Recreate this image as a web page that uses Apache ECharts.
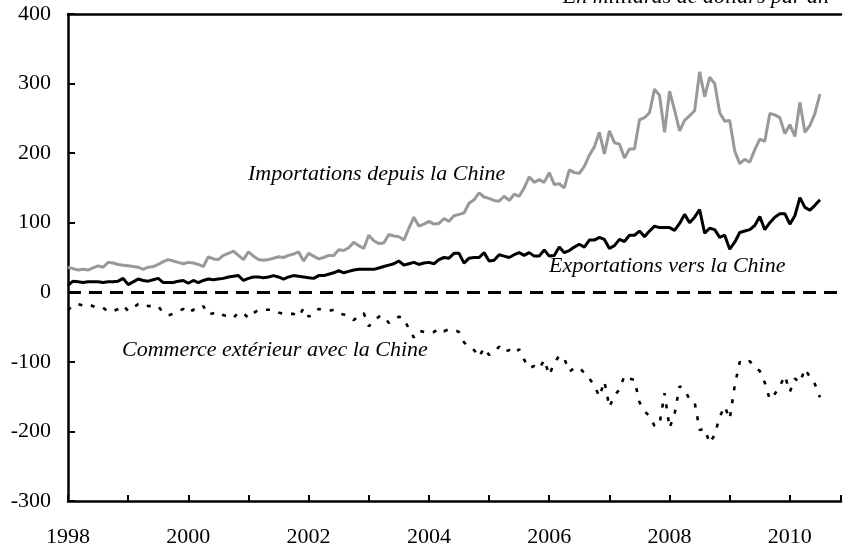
<!DOCTYPE html>
<html>
<head>
<meta charset="utf-8">
<script src="https://cdn.jsdelivr.net/npm/echarts@6/dist/echarts.min.js"></script>
<style>
  html, body { margin: 0; padding: 0; background: #fff; }
  #chart { width: 844px; height: 548px; }
</style>
</head>
<body>
<div id="chart"></div>
<script>
// données mensuelles, janvier 1998 -> juillet 2010, en milliards de dollars par an
var startYear = 1998;
var imports = [
    36, 34, 32, 33, 32, 35, 38, 36, 43, 42, 40, 39,
    38, 37, 36, 33, 36, 37, 40, 44, 47, 45, 43, 41,
    43, 42, 40, 37, 51, 48, 47, 53, 56, 59, 53, 47,
    58, 52, 47, 46, 47, 49, 51, 50, 53, 55, 58, 45,
    56, 52, 48, 50, 53, 53, 61, 60, 64, 72, 67, 63,
    82, 74, 70, 71, 83, 81, 80, 75, 92, 108, 95, 98,
    102, 98, 99, 106, 102, 110, 112, 114, 128, 133, 143, 137,
    135, 132, 131, 138, 132, 141, 138, 150, 166, 158, 162, 158,
    172, 155, 156, 150, 176, 172, 171, 181, 197, 209, 230, 199,
    232, 215, 213, 193, 206, 206, 248, 251, 258, 292, 283, 230,
    289, 262, 232, 247, 254, 261, 317, 281, 309, 300, 258, 246,
    247, 203, 185, 191, 187, 205, 220, 217, 257, 255, 251, 228,
    241, 224, 273, 230, 240, 257, 285
];
var exports = [
    10, 16, 15, 14, 15, 15, 15, 14, 15, 15, 16, 20,
    11, 15, 19, 17, 16, 18, 20, 14, 14, 14, 16, 17,
    13, 17, 14, 17, 19, 18, 19, 20, 22, 23, 24, 17,
    20, 22, 22, 21, 22, 24, 22, 19, 22, 24, 23, 22,
    21, 20, 24, 24, 26, 28, 31, 28, 30, 32, 33, 33,
    33, 33, 35, 37, 39, 41, 45, 39, 41, 43, 40, 42,
    43, 41, 47, 50, 49, 56, 56, 42, 49, 50, 50, 57,
    45, 46, 54, 52, 50, 54, 57, 53, 57, 52, 52, 61,
    52, 53, 65, 57, 60, 65, 69, 65, 75, 75, 79, 76,
    63, 67, 76, 73, 82, 82, 88, 80, 88, 95, 93, 93,
    93, 89, 99, 112, 100, 108, 119, 85, 92, 90, 79, 82,
    62, 72, 86, 88, 90, 96, 109, 90, 100, 108, 113, 113,
    98, 110, 136, 122, 118, 125, 133
];
var balance = [
    -26, -18, -17, -19, -17, -20, -23, -22, -28, -27, -24, -19,
    -27, -22, -17, -16, -20, -19, -20, -30, -33, -31, -27, -24,
    -30, -25, -26, -20, -32, -30, -28, -33, -34, -37, -29, -30,
    -37, -30, -25, -25, -25, -25, -29, -31, -31, -31, -35, -23,
    -35, -32, -24, -26, -27, -25, -30, -32, -35, -40, -34, -30,
    -49, -41, -35, -34, -44, -40, -35, -37, -53, -65, -55, -57,
    -59, -57, -52, -56, -53, -54, -57, -72, -79, -83, -93, -80,
    -90, -86, -78, -86, -83, -88, -82, -97, -109, -106, -110, -97,
    -119, -102, -91, -95, -114, -109, -108, -116, -124, -134, -150, -128,
    -165, -148, -140, -120, -124, -126, -158, -171, -178, -192, -190, -145,
    -195, -175, -135, -140, -154, -158, -198, -196, -217, -205, -179, -164,
    -182, -134, -100, -103, -99, -108, -113, -130, -154, -146, -135, -120,
    -143, -124, -130, -110, -122, -132, -151
];
var yTicks = [-300, -200, -100, 0, 100, 200, 300, 400];

var font = '"Liberation Serif", "Times New Roman", serif';

function toPairs(arr) {
    var out = [];
    for (var i = 0; i < arr.length; i++) {
        out.push([startYear + i / 12, arr[i]]);
    }
    return out;
}

var myChart = echarts.init(document.getElementById('chart'));

var option = {
    animation: false,
    backgroundColor: '#fff',
    grid: { left: 68, right: 0, top: 14, bottom: 46 },
    xAxis: [{
        type: 'value',
        min: 1998,
        max: 2010.85,
        interval: 1,
        axisLine: { show: true, onZero: false, lineStyle: { color: '#000', width: 2.5 } },
        axisTick: { show: true, inside: true, length: 6, lineStyle: { color: '#000', width: 2 } },
        axisLabel: {
            color: '#000', fontSize: 22, fontFamily: font, margin: 25,
            formatter: function (v) {
                return (Math.abs(v - Math.round(v)) < 1e-6 && Math.round(v) % 2 === 0) ? String(Math.round(v)) : '';
            }
        },
        splitLine: { show: false }
    }, {
        type: 'value',
        position: 'top',
        min: 1998,
        max: 2010.85,
        axisLine: { show: true, onZero: false, lineStyle: { color: '#000', width: 2.5 } },
        axisTick: { show: false },
        axisLabel: { show: false },
        splitLine: { show: false }
    }],
    yAxis: {
        type: 'value',
        min: yTicks[0],
        max: yTicks[yTicks.length - 1],
        interval: 100,
        axisLine: { show: true, onZero: false, lineStyle: { color: '#000', width: 2.5 } },
        axisTick: { show: true, inside: true, length: 7, lineStyle: { color: '#000', width: 2 } },
        axisLabel: { color: '#000', fontSize: 22, fontFamily: font, margin: 17 },
        splitLine: { show: false }
    },
    series: [{
        name: 'Importations depuis la Chine',
        type: 'line',
        data: toPairs(imports),
        symbol: 'none',
        lineStyle: { color: '#999999', width: 3 },
        z: 3
    }, {
        name: 'Exportations vers la Chine',
        type: 'line',
        data: toPairs(exports),
        symbol: 'none',
        lineStyle: { color: '#000', width: 3 },
        z: 4
    }, {
        name: 'Commerce extérieur avec la Chine',
        type: 'line',
        data: toPairs(balance),
        symbol: 'none',
        lineStyle: { color: '#000', width: 2.6, type: [4, 9] },
        z: 2,
        markLine: {
            silent: true,
            symbol: 'none',
            label: { show: false },
            lineStyle: { color: '#000', width: 3, type: [13, 8] },
            data: [{ yAxis: 0 }]
        }
    }],
    graphic: [{
        type: 'text', x: 248, y: 174,
        style: { text: 'Importations depuis la Chine', font: 'italic 22px ' + font, fill: '#000', textAlign: 'left', textVerticalAlign: 'middle' }
    }, {
        type: 'text', x: 549, y: 266,
        style: { text: 'Exportations vers la Chine', font: 'italic 22px ' + font, fill: '#000', textAlign: 'left', textVerticalAlign: 'middle' }
    }, {
        type: 'text', x: 122, y: 350,
        style: { text: 'Commerce extérieur avec la Chine', font: 'italic 22px ' + font, fill: '#000', textAlign: 'left', textVerticalAlign: 'middle' }
    }, {
        type: 'text', x: 829, y: -3,
        style: { text: 'En milliards de dollars par an', font: 'italic 22px ' + font, fill: '#000', textAlign: 'right', textVerticalAlign: 'middle' }
    }]
};

myChart.setOption(option);
</script>
</body>
</html>
